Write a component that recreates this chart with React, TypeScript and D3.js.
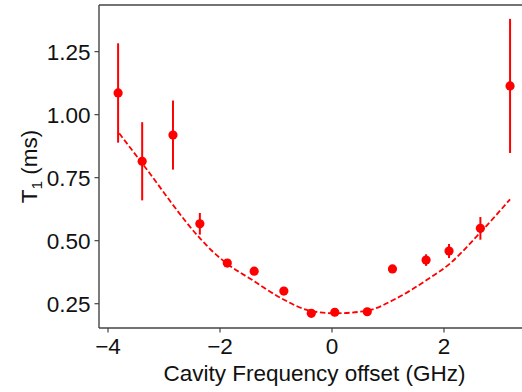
import React from "react";
import * as d3 from "d3";

const freq = [-3.82, -3.39, -2.84, -2.36, -1.87, -1.39, -0.86, -0.37, 0.05, 0.63, 1.08, 1.68, 2.09, 2.65, 3.18];
const t1 = [1.086, 0.815, 0.919, 0.567, 0.411, 0.379, 0.3, 0.212, 0.216, 0.218, 0.388, 0.423, 0.459, 0.549, 1.114];
const t1Err = [0.197, 0.155, 0.137, 0.043, 0.01, 0.01, 0.01, 0.01, 0.01, 0.01, 0.01, 0.023, 0.028, 0.045, 0.266];

const fitFreq = [-3.8, -3.39, -2.36, -2.15, -1.88, -1.41, -0.9, -0.39, 0.05, 0.62, 1.15, 1.69, 2.11, 2.58, 3.18];
const fitT1 = [0.926, 0.807, 0.51, 0.461, 0.41, 0.342, 0.271, 0.222, 0.212, 0.222, 0.271, 0.344, 0.41, 0.516, 0.664];

const xTicks = [-4, -2, 0, 2];
const yTicks = [0.25, 0.5, 0.75, 1.0, 1.25];

const W = 522;
const H = 392;
const left = 99;
const top = 5;
const bottom = 328;
const right = 530;

export default function App() {
  const x = d3.scaleLinear().domain([-4.161, 3.536]).range([left, right]);
  const y = d3.scaleLinear().domain([0.1536, 1.435]).range([bottom, top]);
  const line = d3
    .line<number>()
    .x((_, i) => x(fitFreq[i]))
    .y((d) => y(d))
    .curve(d3.curveMonotoneX);
  const red = "#ff0000";
  const axisColor = "#444444";
  const font = "Arial, 'Liberation Sans', sans-serif";
  const fs = 22.5;
  return (
    <svg
      width={W}
      height={H}
      style={{ position: "absolute", left: 0, top: 0, background: "#fff" }}
      fontFamily={font}
    >
      <rect x={0} y={0} width={W} height={H} fill="#fff" />
      <path d={line(fitT1) || ""} fill="none" stroke={red} strokeWidth={1.8} strokeDasharray="5.5,2.6" />
      {freq.map((f, i) => (
        <g key={i}>
          <line x1={x(f)} x2={x(f)} y1={y(t1[i] - t1Err[i])} y2={y(t1[i] + t1Err[i])} stroke={red} strokeWidth={2} />
          <circle cx={x(f)} cy={y(t1[i])} r={4.6} fill={red} />
        </g>
      ))}
      <line x1={left} x2={right} y1={top} y2={top} stroke={axisColor} strokeWidth={1.4} />
      <line x1={left} x2={right} y1={bottom} y2={bottom} stroke={axisColor} strokeWidth={1.4} />
      <line x1={left} x2={left} y1={top} y2={bottom} stroke={axisColor} strokeWidth={1.4} />
      <line x1={right} x2={right} y1={top} y2={bottom} stroke={axisColor} strokeWidth={1.4} />
      {xTicks.map((t) => (
        <g key={t}>
          <line x1={x(t)} x2={x(t)} y1={bottom} y2={bottom + 4.5} stroke={axisColor} strokeWidth={1.2} />
          <text x={x(t)} y={354} textAnchor="middle" fontSize={fs} fill="#111">
            {t < 0 ? "\u2212" + Math.abs(t) : String(t)}
          </text>
        </g>
      ))}
      {yTicks.map((t) => (
        <g key={t}>
          <line x1={left - 4.5} x2={left} y1={y(t)} y2={y(t)} stroke={axisColor} strokeWidth={1.2} />
          <text x={left - 8.5} y={y(t) + 8} textAnchor="end" fontSize={fs} fill="#111">
            {t.toFixed(2)}
          </text>
        </g>
      ))}
      <text x={(left + right) / 2} y={381} textAnchor="middle" fontSize={fs} fill="#111">
        Cavity Frequency offset (GHz)
      </text>
      <text
        transform={`translate(37, ${(top + bottom) / 2}) rotate(-90)`}
        textAnchor="middle"
        fontSize={fs}
        fill="#111"
      >
        T<tspan fontSize={15.5} dy={5}>1</tspan>
        <tspan dy={-5}> (ms)</tspan>
      </text>
    </svg>
  );
}
